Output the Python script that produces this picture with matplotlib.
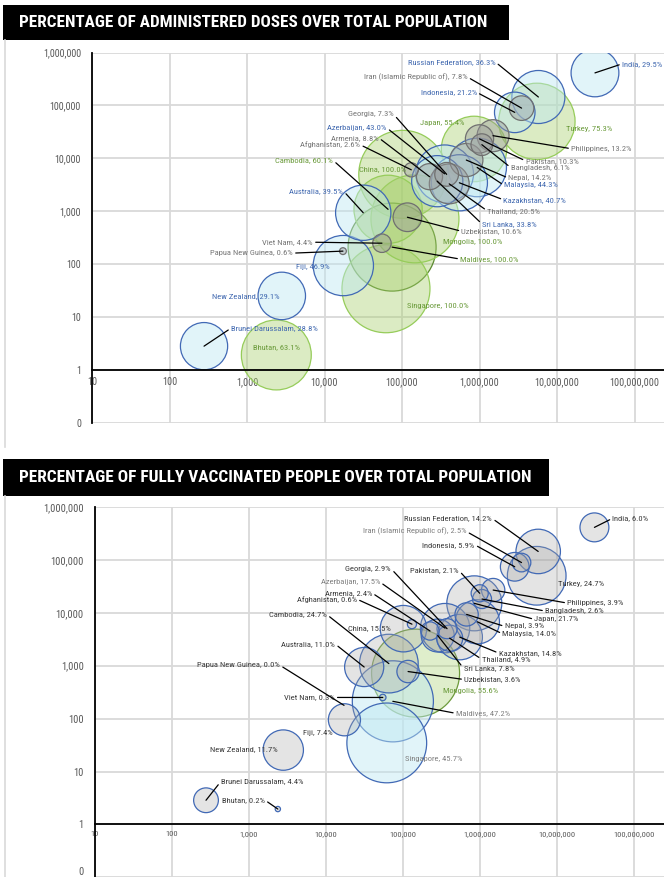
import numpy as np
import matplotlib
matplotlib.use("Agg")
import matplotlib.pyplot as plt
from matplotlib import font_manager
from matplotlib.colors import to_rgba
from matplotlib.patches import Rectangle
from matplotlib.lines import Line2D
from matplotlib.ticker import FixedLocator, NullLocator, FuncFormatter

# data
countries = ["India", "Russian Federation", "Iran (Islamic Republic of)", "Indonesia", "Japan",
             "Turkey", "Philippines", "Pakistan", "Bangladesh", "Nepal", "Malaysia", "Kazakhstan",
             "Thailand", "Georgia", "Azerbaijan", "Armenia", "Sri Lanka", "Afghanistan", "China",
             "Mongolia", "Uzbekistan", "Cambodia", "Maldives", "Singapore", "Viet Nam", "Australia",
             "Papua New Guinea", "Fiji", "New Zealand", "Bhutan", "Brunei Darussalam"]
x_vals = [30900000, 5750000, 3490000, 2850000, 851000, 5500000, 1496000, 1000000, 1072000, 676000,
          933000, 550000, 407000, 376700, 354800, 226500, 285000, 131800, 102300, 146900, 117500,
          66100, 74500, 62100, 55100, 31600, 17300, 17500, 2810, 2390, 279]
y_vals = [412000, 144500, 89100, 74100, 15100, 50100, 26900, 23400, 18200, 9330, 6760, 3470, 3310,
          5010, 5130, 4530, 3720, 6100, 5010, 724, 776, 1096, 212, 34.7, 251, 944, 178, 95, 25.4,
          1.95, 2.86]
doses_pct = [29.5, 36.3, 7.8, 21.2, 55.4, 75.3, 13.2, 10.3, 6.1, 14.2, 44.3, 40.7, 20.5, 7.3, 43.0,
             8.8, 33.8, 2.6, 100.0, 100.0, 10.6, 60.1, 100.0, 100.0, 4.4, 39.5, 0.6, 46.9, 29.1,
             63.1, 28.8]
full_pct = [6.0, 14.2, 2.5, 5.9, 21.7, 24.7, 3.9, 2.1, 2.6, 3.9, 14.0, 14.8, 4.9, 2.9, 17.5, 2.4,
            7.8, 0.6, 15.5, 55.6, 3.6, 24.7, 47.2, 45.7, 0.3, 11.0, 0.0, 7.4, 11.7, 0.2, 4.4]

titles = ["PERCENTAGE OF ADMINISTERED DOSES OVER TOTAL POPULATION",
          "PERCENTAGE OF FULLY VACCINATED PEOPLE OVER TOTAL POPULATION"]

# label placement: offset in pixels from bubble centre, alignment, leader line
layout1 = {
    "India": (27, 9, "left", True), "Russian Federation": (-43, 35, "right", True),
    "Iran (Islamic Republic of)": (-54, 31, "right", True), "Indonesia": (-38, 20, "right", True),
    "Japan": (-10, 26, "right", False), "Turkey": (29, -8, "left", False),
    "Georgia": (-53, 60, "right", True), "Azerbaijan": (-58, 46, "right", True),
    "Armenia": (-51, 39, "right", True), "Afghanistan": (-51, 25, "right", True),
    "Cambodia": (-55, 49, "right", True), "China": (3, 5, "right", False),
    "Australia": (-20, 22, "right", True), "Philippines": (78, -13, "left", True),
    "Pakistan": (46, -22, "left", True), "Bangladesh": (29, -23, "left", True),
    "Nepal": (42, -18, "left", True), "Malaysia": (27, -18, "left", True),
    "Kazakhstan": (44, -17, "left", True), "Thailand": (38, -27, "left", True),
    "Sri Lanka": (45, -43, "left", True), "Uzbekistan": (54, -14, "left", True),
    "Mongolia": (28, -23, "left", False), "Viet Nam": (-69, 1, "right", True),
    "Papua New Guinea": (-50, -2, "right", True), "Maldives": (68, -12, "left", True),
    "Fiji": (-30, -1, "center", False), "Singapore": (21, -17, "left", False),
    "New Zealand": (-2, 0, "right", False), "Brunei Darussalam": (27, 18, "left", True),
    "Bhutan": (0, 8, "center", False),
}
layout2 = {
    "India": (18, 9, "left", True), "Russian Federation": (-46, 33, "right", True),
    "Iran (Islamic Republic of)": (-55, 31, "right", True), "Indonesia": (-40, 22, "right", True),
    "Georgia": (-56, 60, "right", True), "Pakistan": (-21, 23, "right", True),
    "Turkey": (21, -8, "left", False), "Azerbaijan": (-65, 46, "right", True),
    "Armenia": (-58, 38, "right", True), "Afghanistan": (-55, 25, "right", True),
    "Philippines": (74, -13, "left", True), "Bangladesh": (63, -12, "left", True),
    "Japan": (60, -16, "left", True), "Cambodia": (-62, 49, "right", True),
    "China": (-13, 1, "right", False), "Nepal": (38, -12, "left", True),
    "Malaysia": (25, -12, "left", True), "Australia": (-29, 23, "right", True),
    "Kazakhstan": (39, -16, "left", True), "Thailand": (32, -21, "left", True),
    "Sri Lanka": (26, -33, "left", True), "Papua New Guinea": (-64, 40, "right", True),
    "Uzbekistan": (56, -8, "left", True), "Mongolia": (27, -18, "left", False),
    "Viet Nam": (-48, 0, "right", True), "Maldives": (63, -12, "left", True),
    "Fiji": (-27, -13, "center", False), "Singapore": (18, -16, "left", False),
    "New Zealand": (-6, 1, "right", False), "Brunei Darussalam": (15, 19, "left", True),
    "Bhutan": (-13, 9, "right", True),
}

available = {f.name for f in font_manager.fontManager.ttflist}
NARROW = next((f for f in ["Roboto Condensed", "Liberation Sans Narrow"] if f in available), "DejaVu Sans")
fscale = 1.0 if NARROW != "DejaVu Sans" else 0.8

W, H = 664, 877
fig = plt.figure(figsize=(W / 100, H / 100), dpi=100)

GREEN, BLUE, GRAY = "#a5cf6a", "#bde7f2", "#9a9a9a"


def style1(name, p):
    if p >= 50:
        edge = "#5b8a30" if name == "Maldives" else "#96cc5a"
        return to_rgba(GREEN, 0.4), edge, "#6a9a3a"
    if p >= 21:
        return to_rgba(BLUE, 0.45), "#4169b5", "#4169b0"
    return to_rgba(GRAY, 0.42), "#707070", "#767676"


def style2(name, p):
    if p >= 50:
        return to_rgba(GREEN, 0.35), "#6d9a3c", "#6a9a3a"
    if p >= 25:
        return to_rgba(BLUE, 0.45), "#4169b5", "#808080"
    lab = "#808080" if name in ("Iran (Islamic Republic of)", "Azerbaijan") else "#3a3a3a"
    return to_rgba("#a6a6a6", 0.3), "#4169b5", lab


def draw_panel(rect, xmax_log, pct, styler, layout, xtick_fs, ytick_fs):
    ax = fig.add_axes(rect)
    ax.set_xscale("log")
    ax.set_yscale("log")
    ax.set_xlim(10, 10 ** xmax_log)
    ax.set_ylim(0.1, 1e6)
    ax.set_axisbelow(True)
    ax.xaxis.set_major_locator(FixedLocator([10.0 ** k for k in range(1, 9)]))
    ax.yaxis.set_major_locator(FixedLocator([10.0 ** k for k in range(-1, 7)]))
    ax.xaxis.set_minor_locator(NullLocator())
    ax.yaxis.set_minor_locator(NullLocator())
    fmt = FuncFormatter(lambda v, p: f"{v:,.0f}")
    ax.xaxis.set_major_formatter(fmt)
    ax.yaxis.set_major_formatter(fmt)
    ax.grid(True, color="#d9d9d9", lw=1.3)
    for s in ["top", "right"]:
        ax.spines[s].set_visible(False)
    ax.spines["bottom"].set_position(("data", 1))
    ax.spines["bottom"].set_color("black")
    ax.spines["bottom"].set_linewidth(1.3)
    ax.spines["bottom"].set_zorder(6)
    ax.spines["left"].set_color("black")
    ax.spines["left"].set_linewidth(1.3)
    ax.tick_params(length=0, colors="#595959")
    ax.tick_params(axis="y", pad=8, labelsize=ytick_fs * fscale)
    ax.tick_params(axis="x", pad=5, labelsize=xtick_fs * fscale)
    for t in ax.get_xticklabels() + ax.get_yticklabels():
        t.set_family(NARROW)

    vmax = max(pct)
    order = np.argsort(pct)[::-1]
    xs = np.array(x_vals)[order]
    ys = np.array(y_vals)[order]
    ps = np.array(pct)[order]
    styles = [styler(countries[i], pct[i]) for i in order]
    sizes = (88 * np.sqrt(ps / vmax) * 0.72) ** 2
    ax.scatter(xs, ys, s=sizes, c=[s[0] for s in styles], edgecolors=[s[1] for s in styles],
               linewidths=0.9, zorder=2)

    for i, name in enumerate(countries):
        dx, dy, ha, leader = layout[name]
        col = styler(name, pct[i])[2]
        arrow = None
        if leader:
            arrow = dict(arrowstyle="-", color="black", lw=0.9, shrinkA=0, shrinkB=0,
                         relpos=(1, 0.5) if ha == "right" else (0, 0.5))
        ax.annotate(f"{name}, {pct[i]:.1f}%", xy=(x_vals[i], y_vals[i]), xytext=(dx, dy),
                    textcoords="offset pixels", ha=ha, va="center", color=col,
                    fontsize=6.1 * fscale, family=NARROW, arrowprops=arrow, zorder=5)
    return ax


ax1 = draw_panel([92 / W, 1 - 423.3 / H, (W - 92) / W, (423.3 - 52.5) / H],
                 1 + (W - 92) / 77.5, doses_pct, style1, layout1, 7.3, 7.2)
ax2 = draw_panel([94.7 / W, 1 - 877.3 / H, (W - 94.7) / W, (877.3 - 507) / H],
                 1 + (W - 94.7) / 77, full_pct, style2, layout2, 6.1, 7.6)

# the lowest y label of the lower panel sits on the figure edge, keep it inside
fig.canvas.draw()
ax2.get_yticklabels()[0].set_verticalalignment("bottom")

# chart area left borders
for y0, y1 in [(40, 447), (496, 877)]:
    fig.add_artist(Line2D([5 / W, 5 / W], [1 - y0 / H, 1 - y1 / H], color="#d9d9d9", lw=1.2,
                          transform=fig.transFigure))

# title banners
renderer = fig.canvas.get_renderer()
for (y0, y1, xr, tw), title in zip([(5, 40, 509, 469), (459, 496, 549, 511)], titles):
    fig.add_artist(Rectangle((3 / W, 1 - y1 / H), (xr - 3) / W, (y1 - y0) / H,
                             transform=fig.transFigure, facecolor="black", edgecolor="none"))
    t = fig.text(19 / W, 1 - (y0 + y1) / 2 / H, title, color="white", fontsize=12,
                 fontweight="bold", family=NARROW, ha="left", va="center")
    w = t.get_window_extent(renderer).width
    t.set_fontsize(12 * tw / w)

fig.savefig("out.png", dpi=100)
